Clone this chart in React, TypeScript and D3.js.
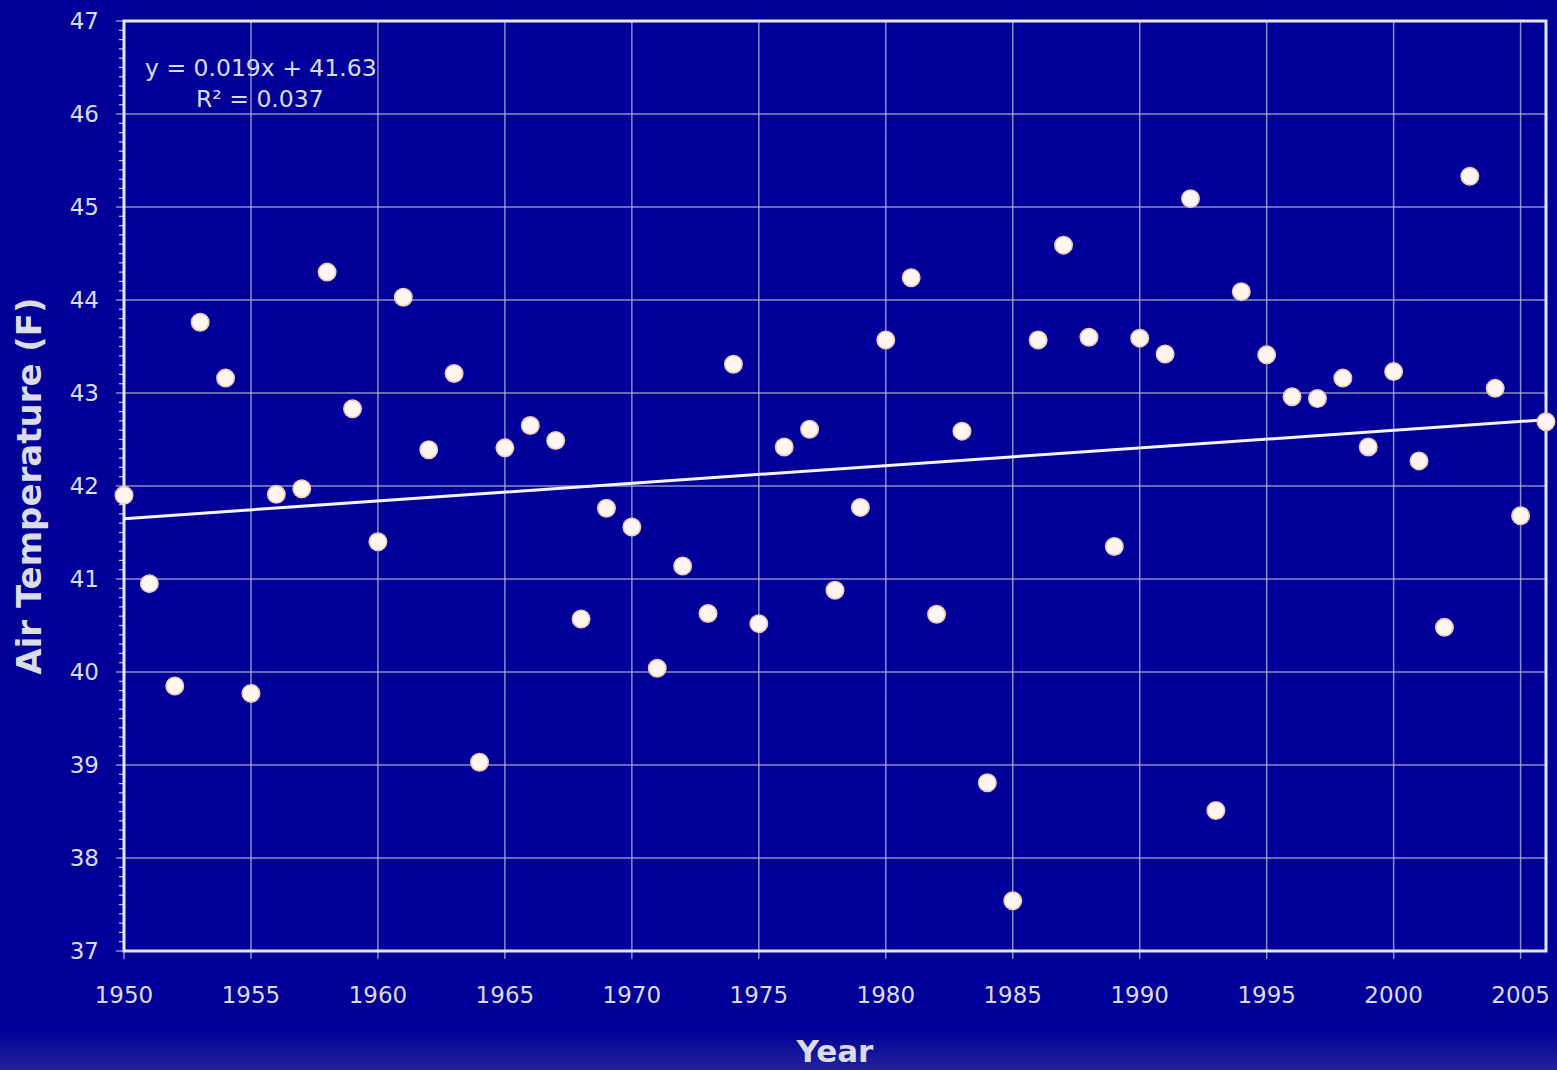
import React, { useEffect, useRef } from "react";
import * as d3 from "d3";

const years: number[] = d3.range(1950, 2007);
const temps: number[] = [
  41.90, 40.95, 39.85, 43.76, 43.16, 39.77, 41.91, 41.97, 44.30, 42.83,
  41.40, 44.03, 42.39, 43.21, 39.03, 42.41, 42.65, 42.49, 40.57, 41.76,
  41.56, 40.04, 41.14, 40.63, 43.31, 40.52, 42.42, 42.61, 40.88, 41.77,
  43.57, 44.24, 40.62, 42.59, 38.81, 37.54, 43.57, 44.59, 43.60, 41.35,
  43.59, 43.42, 45.09, 38.51, 44.09, 43.41, 42.96, 42.94, 43.16, 42.42,
  43.23, 42.27, 40.48, 45.33, 43.05, 41.68, 42.69,
];
const xTicks: number[] = [1950, 1955, 1960, 1965, 1970, 1975, 1980, 1985, 1990, 1995, 2000, 2005];
const yTicks: number[] = [37, 38, 39, 40, 41, 42, 43, 44, 45, 46, 47];
const trendSlope = 0.019;
const trendIntercept = 41.63;
const equationLines: string[] = ["y = 0.019x + 41.63", "R\u00b2 = 0.037"];

const W = 1557;
const H = 1070;
const M = { left: 124, right: 11, top: 21, bottom: 119 };

export default function App() {
  const ref = useRef<SVGSVGElement>(null);
  useEffect(() => {
    const svg = d3.select(ref.current);
    svg.selectAll("*").remove();
    const font = "Verdana, 'DejaVu Sans', sans-serif";
    const txt = "#dcdce8";

    const defs = svg.append("defs");
    const grad = defs.append("linearGradient").attr("id", "bg").attr("x1", 0).attr("x2", 0).attr("y1", 0).attr("y2", 1);
    grad.append("stop").attr("offset", "0%").attr("stop-color", "#000099");
    grad.append("stop").attr("offset", "96.2%").attr("stop-color", "#000099");
    grad.append("stop").attr("offset", "100%").attr("stop-color", "#23239b");
    svg.append("rect").attr("width", W).attr("height", H).attr("fill", "url(#bg)");

    const x = d3.scaleLinear().domain([1950, 2006]).range([M.left, W - M.right]);
    const y = d3.scaleLinear().domain([37, 47]).range([H - M.bottom, M.top]);

    const g = svg.append("g");
    // gridlines
    g.selectAll("line.vg").data(xTicks).join("line")
      .attr("x1", (d) => x(d)).attr("x2", (d) => x(d))
      .attr("y1", y(47)).attr("y2", y(37) + 8)
      .attr("stroke", "#b0b0d0").attr("stroke-width", 1.5).attr("opacity", 0.8);
    g.selectAll("line.hg").data(yTicks).join("line")
      .attr("x1", x(1950) - 8).attr("x2", x(2006))
      .attr("y1", (d) => y(d)).attr("y2", (d) => y(d))
      .attr("stroke", "#b0b0d0").attr("stroke-width", 1.5).attr("opacity", 0.8);
    // minor ticks on y axis
    const minor = d3.range(370, 471).map((v) => v / 10).filter((v) => Math.abs(v - Math.round(v)) > 0.01);
    g.selectAll("line.mt").data(minor).join("line")
      .attr("x1", x(1950) - 5).attr("x2", x(1950))
      .attr("y1", (d) => y(d)).attr("y2", (d) => y(d))
      .attr("stroke", "#c8c8e0").attr("stroke-width", 1.2);

    // frame
    g.append("rect")
      .attr("x", x(1950)).attr("y", y(47))
      .attr("width", x(2006) - x(1950)).attr("height", y(37) - y(47))
      .attr("fill", "none").attr("stroke", "#e6e6ee").attr("stroke-width", 3);

    // y tick labels
    g.selectAll("text.yt").data(yTicks).join("text")
      .attr("x", x(1950) - 25).attr("y", (d) => y(d)).attr("dy", "0.36em")
      .attr("text-anchor", "end").attr("fill", txt)
      .style("font-family", font).style("font-size", "23px")
      .text((d) => String(d));
    // x tick labels
    g.selectAll("text.xt").data(xTicks).join("text")
      .attr("x", (d) => x(d)).attr("y", y(37) + 52)
      .attr("text-anchor", "middle").attr("fill", txt)
      .style("font-family", font).style("font-size", "23px")
      .text((d) => String(d));

    // axis titles
    g.append("text")
      .attr("transform", `translate(29, ${486}) rotate(-90)`)
      .attr("text-anchor", "middle").attr("dy", "0.36em").attr("fill", txt)
      .style("font-family", font).style("font-size", "34px").style("font-weight", "bold")
      .text("Air Temperature (F)");
    g.append("text")
      .attr("x", (x(1950) + x(2006)) / 2).attr("y", H - 8)
      .attr("text-anchor", "middle").attr("fill", txt)
      .style("font-family", font).style("font-size", "31px").style("font-weight", "bold")
      .text("Year");

    // trendline
    const idx0 = 1;
    const idx1 = years.length;
    g.append("line")
      .attr("x1", x(years[0])).attr("x2", x(years[years.length - 1]))
      .attr("y1", y(trendSlope * idx0 + trendIntercept))
      .attr("y2", y(trendSlope * idx1 + trendIntercept))
      .attr("stroke", "#f4f4f8").attr("stroke-width", 3);

    // points
    g.selectAll("circle.pt").data(years).join("circle")
      .attr("cx", (d) => x(d)).attr("cy", (_d, i) => y(temps[i]))
      .attr("r", 8.7)
      .attr("fill", "#fff6f2").attr("stroke", "#f0cabd").attr("stroke-width", 1.6);

    // equation
    g.append("text").attr("x", 145).attr("y", 76).attr("fill", txt)
      .style("font-family", font).style("font-size", "23.5px").text(equationLines[0]);
    g.append("text").attr("x", 196).attr("y", 107).attr("fill", txt)
      .style("font-family", font).style("font-size", "23.5px").text(equationLines[1]);
  }, []);
  return (
    <svg ref={ref} width={W} height={H} style={{ position: "absolute", left: 0, top: 0, display: "block" }} />
  );
}
